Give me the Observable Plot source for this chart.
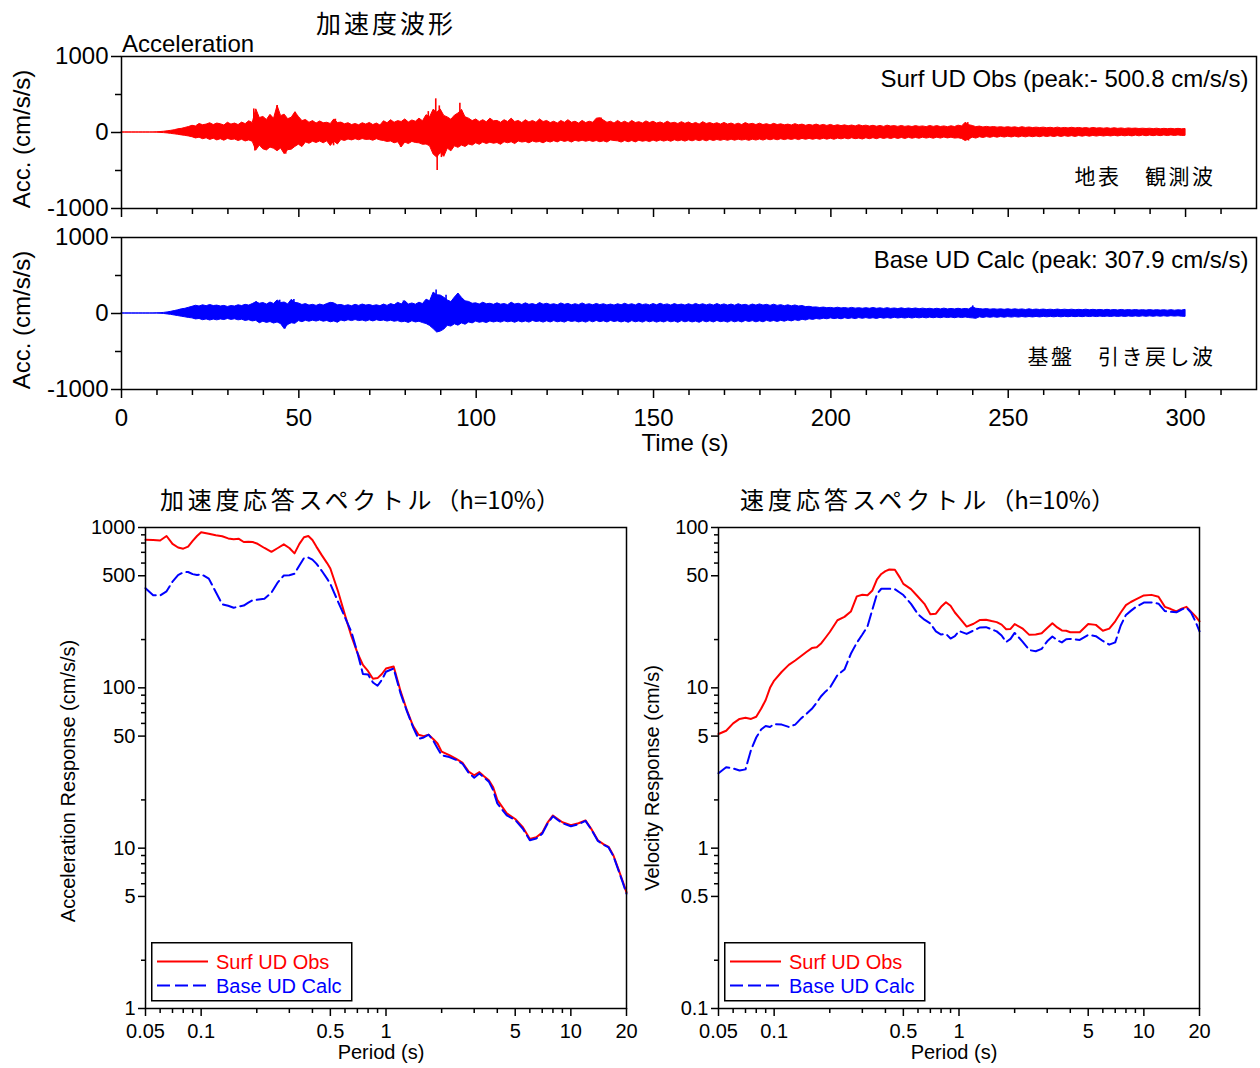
<!DOCTYPE html>
<html lang="ja">
<head>
<meta charset="utf-8">
<title>加速度波形・応答スペクトル</title>
<script src="https://cdn.jsdelivr.net/npm/d3@7"></script>
<script src="https://cdn.jsdelivr.net/npm/@observablehq/plot@0.6"></script>
<style>
  html, body { margin: 0; padding: 0; background: #fff; }
  #chart { position: relative; width: 1260px; height: 1068px; overflow: hidden; background: #fff; color: #000; }
  #chart > * { position: absolute; }
</style>
</head>
<body>
<div id="chart"></div>
<script>
// ---------------------------------------------------------------------------
// Acceleration time histories (cm/s/s): upper / lower envelope every 1 s, 0–300 s
// ---------------------------------------------------------------------------
const timeStep = 1;

const surfHi = [
  0, 0, 0, 0, 0, 0, 0, 0, 0, 0,
  3, 6, 10, 16, 22, 30, 42, 48, 60, 72,
  88, 80, 112, 96, 104, 122, 98, 118, 108, 92,
  128, 104, 118, 98, 130, 110, 148, 125, 305, 190,
  205, 165, 232, 180, 350, 215, 235, 175, 195, 265,
  205, 150, 165, 128, 150, 118, 145, 122, 128, 112,
  172, 125, 130, 108, 122, 98, 112, 95, 122, 104,
  126, 98, 118, 92, 148, 122, 162, 128, 150, 138,
  172, 132, 158, 142, 182, 148, 228, 200, 300, 262,
  302, 218, 198, 168, 222, 250, 298, 198, 182, 150,
  172, 138, 162, 134, 182, 148, 152, 128, 162, 138,
  182, 138, 152, 124, 162, 132, 152, 128, 172, 138,
  152, 124, 142, 118, 152, 128, 162, 128, 142, 118,
  152, 124, 142, 128, 182, 188, 158, 128, 142, 118,
  152, 122, 142, 118, 152, 124, 136, 118, 146, 124,
  142, 118, 132, 114, 142, 118, 128, 112, 136, 114,
  132, 108, 126, 104, 136, 112, 124, 108, 122, 104,
  126, 104, 118, 100, 116, 98, 124, 104, 114, 98,
  116, 98, 110, 94, 114, 98, 108, 94, 104, 92,
  110, 94, 104, 88, 100, 90, 104, 88, 100, 86,
  100, 84, 96, 84, 94, 82, 92, 80, 96, 82,
  90, 78, 88, 76, 86, 74, 90, 78, 84, 74,
  86, 74, 82, 72, 84, 74, 80, 70, 86, 74,
  84, 72, 80, 70, 82, 72, 90, 80, 128, 96,
  86, 70, 78, 66, 74, 66, 72, 64, 70, 62,
  70, 62, 68, 58, 70, 60, 66, 58, 64, 58,
  64, 56, 62, 54, 64, 54, 60, 54, 62, 54,
  60, 52, 58, 50, 60, 52, 56, 50, 56, 48,
  56, 48, 54, 46, 54, 48, 52, 46, 50, 46,
  50, 44, 50, 42, 48, 44, 48, 42, 48, 42,
  46
];
const surfLo = [
  0, 0, 0, 0, 0, 0, 0, 0, 0, 0,
  -2, -5, -8, -12, -18, -24, -30, -38, -44, -52,
  -62, -78, -68, -88, -76, -98, -82, -104, -88, -108,
  -84, -98, -92, -112, -96, -118, -104, -122, -238, -172,
  -222, -236, -198, -214, -246, -210, -285, -232, -226, -190,
  -160, -192, -130, -148, -122, -138, -118, -142, -116, -178,
  -118, -158, -98, -112, -92, -104, -88, -102, -86, -98,
  -94, -108, -88, -104, -112, -124, -118, -142, -128, -195,
  -132, -152, -124, -138, -142, -162, -158, -182, -290, -330,
  -270, -320, -212, -248, -182, -202, -172, -190, -158, -172,
  -142, -162, -132, -152, -134, -148, -138, -162, -128, -142,
  -128, -152, -118, -132, -124, -142, -118, -132, -124, -142,
  -118, -132, -114, -130, -108, -124, -112, -132, -108, -122,
  -108, -122, -110, -124, -112, -128, -116, -132, -104, -112,
  -116, -132, -112, -128, -112, -130, -108, -122, -112, -126,
  -106, -122, -104, -120, -106, -122, -102, -116, -104, -120,
  -102, -116, -100, -114, -100, -116, -98, -112, -98, -110,
  -96, -110, -94, -108, -94, -106, -96, -110, -94, -106,
  -92, -106, -90, -102, -90, -102, -88, -100, -88, -98,
  -86, -100, -84, -96, -84, -96, -84, -96, -82, -94,
  -82, -95, -80, -90, -78, -90, -76, -88, -80, -92,
  -76, -88, -75, -88, -72, -85, -74, -86, -72, -85,
  -72, -85, -70, -82, -72, -82, -68, -80, -70, -82,
  -68, -80, -66, -78, -68, -80, -75, -86, -112, -92,
  -68, -80, -62, -72, -60, -70, -58, -68, -56, -66,
  -55, -65, -54, -66, -53, -64, -52, -62, -52, -62,
  -50, -60, -50, -60, -48, -58, -48, -57, -48, -58,
  -46, -55, -45, -55, -45, -54, -44, -53, -44, -52,
  -43, -52, -42, -50, -42, -51, -41, -50, -40, -49,
  -40, -48, -40, -48, -39, -47, -38, -46, -38, -46,
  -44
];
const baseHi = [
  0, 0, 0, 0, 0, 0, 0, 0, 0, 0,
  2, 4, 8, 14, 22, 32, 42, 55, 62, 75,
  88, 102, 92, 108, 96, 112, 98, 104, 92, 100,
  86, 98, 92, 108, 98, 114, 104, 124, 148, 128,
  138, 118, 144, 126, 172, 138, 144, 120, 180, 140,
  132, 112, 124, 104, 114, 100, 118, 104, 124, 140,
  132, 108, 112, 98, 108, 96, 114, 100, 118, 104,
  112, 98, 108, 96, 118, 100, 124, 108, 140, 120,
  162, 118, 132, 116, 142, 124, 182, 160, 275, 240,
  236, 208, 172, 150, 210, 262, 205, 160, 152, 128,
  134, 118, 142, 122, 128, 114, 134, 116, 124, 110,
  142, 118, 128, 112, 134, 114, 124, 108, 138, 116,
  128, 112, 122, 108, 132, 114, 126, 108, 122, 110,
  132, 112, 122, 108, 126, 110, 122, 106, 118, 104,
  122, 108, 128, 110, 122, 106, 128, 110, 120, 106,
  124, 108, 128, 110, 120, 104, 124, 108, 118, 104,
  122, 106, 126, 108, 122, 106, 120, 104, 124, 106,
  120, 104, 118, 102, 122, 106, 114, 100, 118, 104,
  120, 104, 114, 100, 116, 100, 110, 96, 108, 94,
  106, 92, 98, 84, 88, 78, 80, 72, 78, 70,
  74, 66, 76, 66, 72, 64, 74, 64, 70, 62,
  70, 62, 72, 62, 68, 60, 70, 60, 66, 58,
  68, 58, 66, 58, 66, 56, 64, 56, 62, 54,
  62, 54, 64, 54, 60, 54, 62, 54, 60, 54,
  82, 62, 58, 52, 58, 50, 56, 50, 55, 48,
  56, 48, 55, 48, 54, 46, 55, 46, 52, 46,
  52, 45, 50, 44, 52, 44, 50, 44, 50, 43,
  48, 43, 50, 42, 48, 42, 47, 41, 48, 41,
  46, 40, 47, 40, 45, 40, 46, 39, 44, 38,
  45, 38, 44, 38, 43, 37, 44, 37, 42, 38,
  48
];
const baseLo = [
  0, 0, 0, 0, 0, 0, 0, 0, 0, 0,
  -1, -3, -6, -12, -18, -26, -34, -42, -50, -58,
  -64, -78, -72, -88, -78, -92, -80, -90, -78, -86,
  -72, -84, -76, -90, -82, -98, -88, -104, -96, -128,
  -108, -124, -112, -132, -118, -140, -205, -150, -128, -136,
  -100, -114, -96, -108, -94, -106, -92, -108, -98, -116,
  -104, -122, -92, -104, -88, -100, -86, -100, -92, -106,
  -90, -104, -88, -100, -92, -106, -94, -108, -100, -116,
  -108, -124, -102, -118, -108, -126, -138, -164, -205, -250,
  -238, -212, -162, -172, -142, -160, -130, -148, -118, -130,
  -106, -122, -112, -126, -104, -118, -106, -120, -102, -116,
  -106, -122, -102, -118, -104, -120, -98, -112, -104, -120,
  -102, -118, -100, -116, -106, -120, -98, -112, -102, -118,
  -104, -120, -100, -116, -98, -114, -102, -118, -98, -112,
  -102, -118, -104, -122, -100, -116, -104, -120, -100, -116,
  -102, -120, -104, -118, -100, -116, -104, -122, -100, -116,
  -102, -118, -106, -122, -100, -116, -102, -118, -98, -114,
  -104, -120, -100, -116, -102, -118, -98, -112, -100, -116,
  -102, -116, -96, -110, -98, -112, -96, -108, -92, -104,
  -88, -100, -82, -92, -76, -84, -72, -80, -68, -76,
  -64, -74, -66, -76, -62, -72, -64, -74, -60, -70,
  -60, -70, -62, -72, -58, -68, -60, -68, -56, -66,
  -58, -66, -56, -66, -56, -64, -55, -64, -54, -62,
  -54, -62, -52, -60, -53, -62, -52, -60, -52, -60,
  -64, -70, -50, -58, -49, -56, -49, -56, -48, -55,
  -47, -54, -47, -54, -46, -53, -46, -52, -45, -52,
  -44, -50, -44, -50, -43, -50, -43, -49, -42, -48,
  -42, -48, -41, -47, -41, -47, -40, -46, -40, -46,
  -39, -45, -39, -45, -38, -44, -38, -44, -37, -43,
  -37, -43, -36, -42, -36, -42, -35, -41, -36, -42,
  -44
];

// Individual sharp peaks [time (s), acceleration (cm/s/s)]
const surfSpikes = [
  [37.3, 310], [37.6, -245], [43.9, 355], [45.9, -260], [46.3, -285],
  [49.0, 267], [59.8, -175], [60.3, 175], [78.7, -195], [86.5, 275],
  [88.6, 443], [89.0, -500.8], [89.6, 350], [90.2, -330], [95.4, 386],
  [97.0, 200], [135.2, 190], [238.6, 130], [238.8, -112]
];
const baseSpikes = [
  [38.0, 155], [44.6, 175], [46.1, -205], [48.6, 185], [59.5, 140],
  [79.5, 165], [88.7, 307.9], [89.3, -250], [91.5, 240], [94.8, 260],
  [240.0, 100]
];

const timeMajor = [0, 50, 100, 150, 200, 250, 300];
const timeMinor = [10, 20, 30, 40, 60, 70, 80, 90, 110, 120, 130, 140, 160, 170, 180, 190,
                   210, 220, 230, 240, 260, 270, 280, 290, 310];
const accMajor = [-1000, 0, 1000];
const accMinor = [-500, 500];

// ---------------------------------------------------------------------------
// Response spectra, h = 10 %
// ---------------------------------------------------------------------------
const periods = [
  0.05, 0.055, 0.06, 0.065, 0.07, 0.075, 0.08, 0.085, 0.09, 0.095,
  0.1, 0.11, 0.12, 0.13, 0.14, 0.15, 0.16, 0.17, 0.18, 0.19,
  0.2, 0.22, 0.24, 0.26, 0.28, 0.3, 0.32, 0.34, 0.36, 0.38,
  0.4, 0.42, 0.45, 0.48, 0.5, 0.55, 0.6, 0.65, 0.7, 0.75,
  0.8, 0.85, 0.9, 0.95, 1.0, 1.1, 1.2, 1.3, 1.4, 1.5,
  1.6, 1.7, 1.8, 1.9, 2.0, 2.2, 2.4, 2.6, 2.8, 3.0,
  3.2, 3.4, 3.6, 3.8, 4.0, 4.5, 5.0, 5.5, 6.0, 6.5,
  7.0, 7.5, 8.0, 8.5, 9.0, 10, 11, 12, 13, 14,
  15, 16, 17, 18, 19, 20
];
// acceleration response (cm/s/s)
const saSurfObs = [
  838, 835, 830, 885, 790, 750, 738, 760, 825, 885,
  935, 915, 895, 882, 855, 845, 850, 812, 815, 812,
  795, 745, 705, 745, 785, 745, 690, 790, 870, 885,
  835, 760, 670, 600, 555, 400, 284, 210, 166, 139,
  127, 114, 115, 122, 132, 136, 95, 72, 58, 51,
  50, 51, 48, 45, 40, 38, 36, 34, 30, 28.5,
  29.8, 28, 26.5, 24, 20, 16.5, 15.2, 13.5, 11.4, 11.7,
  12.5, 14.5, 16, 15.2, 14.5, 13.9, 14.3, 14.9, 13, 11.2,
  10.6, 10.2, 9, 7.5, 6.3, 5.3
];
const saBaseCalc = [
  418, 378, 377, 400, 460, 505, 525, 528, 512, 505,
  512, 480, 396, 332, 325, 316, 321, 326, 340, 352,
  354, 360, 392, 455, 502, 504, 515, 580, 645, 650,
  630, 595, 535, 480, 445, 345, 275, 223, 166, 122,
  121, 108, 103, 112, 126, 132, 92, 71, 57, 48,
  49, 51, 47, 42, 38, 37, 35.5, 33.5, 29.5, 27.5,
  29.2, 27.5, 26, 23, 19, 16, 15, 13.2, 11.2, 11.5,
  12.3, 14.3, 15.8, 15, 14.3, 13.7, 14.1, 14.8, 12.9, 11.1,
  10.5, 10.1, 8.9, 7.4, 6.2, 5.2
];
// velocity response (cm/s)
const svSurfObs = [
  5.15, 5.4, 6.0, 6.4, 6.5, 6.4, 6.6, 7.4, 8.4, 10.0,
  11.1, 12.6, 13.9, 14.8, 15.8, 16.8, 17.7, 17.9, 19.0, 20.6,
  22.3, 26.4, 27.7, 29.9, 37.2, 38.1, 37.8, 40.5, 47.5, 51.3,
  53.4, 54.7, 54.5, 48.5, 44.5, 41.3, 37.0, 33.4, 28.8, 29.0,
  32.0, 34.2, 32.5, 29.5, 27.5, 24.1, 25.1, 26.5, 26.6, 26.1,
  25.7, 24.8, 23.2, 23.3, 25.0, 23.5, 21.4, 21.5, 21.9, 23.6,
  25.3, 23.8, 22.8, 22.7, 22.2, 22.2, 25.0, 24.7, 22.7, 23.4,
  26.0, 29.5, 32.8, 34.3, 35.5, 37.7, 38.0, 37.0, 32.0, 31.0,
  30.0, 31.2, 32.0, 29.8, 28.0, 26.0
];
const svBaseCalc = [
  2.93, 3.2, 3.14, 3.05, 3.1, 4.1, 4.9, 5.5, 5.78, 5.7,
  5.95, 5.9, 5.7, 5.9, 6.45, 6.9, 7.4, 8.1, 8.9, 9.5,
  10.0, 12.0, 13.0, 16.3, 19.1, 21.5, 24.2, 30.8, 38.5, 41.5,
  41.5, 41.5, 41.2, 39.2, 37.9, 33.4, 28.8, 26.6, 25.2, 22.5,
  21.5, 21.7, 20.3, 21.0, 22.6, 21.7, 22.8, 23.8, 23.9, 23.2,
  22.5, 21.2, 19.3, 20.2, 22.0, 19.5, 17.2, 16.9, 17.5, 19.5,
  20.9, 19.8, 19.2, 20.1, 20.2, 19.9, 21.4, 21.0, 19.6, 18.6,
  19.2, 24.5, 28.5, 30.2, 31.8, 34.0, 34.1, 33.5, 30.1, 29.8,
  29.6, 30.8, 31.6, 29.5, 26.0, 22.5
];

const periodMajor = [0.05, 0.1, 0.5, 1, 5, 10, 20];
const periodMinor = [0.06, 0.07, 0.08, 0.09, 0.2, 0.3, 0.4, 0.6, 0.7, 0.8, 0.9,
                     2, 3, 4, 6, 7, 8, 9];
const saMajor = [1, 5, 10, 50, 100, 500, 1000];
const saMinor = [2, 6, 7, 8, 9, 20, 60, 70, 80, 90, 200, 600, 700, 800, 900];
const svMajor = [0.1, 0.5, 1, 5, 10, 50, 100];
const svMinor = [0.2, 0.6, 0.7, 0.8, 0.9, 2, 6, 7, 8, 9, 20, 60, 70, 80, 90];

const seriesNames = ["Surf UD Obs", "Base UD Calc"];
const seriesColors = ["#ff0000", "#0000ff"];
const calcDash = "13,5";

// ---------------------------------------------------------------------------
const LATIN = "'Liberation Sans', Arial, sans-serif";
const JP = "'Noto Sans CJK JP', 'Noto Sans CJK SC', sans-serif";
const W = 1260;
const chart = document.getElementById("chart");

function put(node, left, top) {
  node.style.position = "absolute";
  node.style.left = left + "px";
  node.style.top = top + "px";
  chart.appendChild(node);
  return node;
}

// absolutely positioned text; `parts` lets a label mix letter-spacings
function addText(str, o) {
  const el = document.createElement("div");
  Object.assign(el.style, {
    position: "absolute", whiteSpace: "nowrap", lineHeight: "1",
    fontSize: o.size + "px", fontFamily: o.jp ? JP : LATIN, color: o.color || "#000"
  });
  if (o.parts) {
    for (const [txt, sp] of o.parts) {
      const s = document.createElement("span");
      s.textContent = txt;
      if (sp) s.style.letterSpacing = sp + "px";
      el.appendChild(s);
    }
  } else {
    el.textContent = str;
    if (o.spacing) el.style.letterSpacing = o.spacing + "px";
  }
  if (o.rotate) {
    el.style.left = o.cx + "px";
    el.style.top = o.cy + "px";
    el.style.transform = "translate(-50%,-50%) rotate(-90deg)";
  } else {
    if (o.right != null) el.style.right = (W - o.right) + "px";
    else if (o.cx != null) { el.style.left = o.cx + "px"; el.style.transform = "translateX(-50%)"; }
    else el.style.left = o.left + "px";
    el.style.top = o.top + "px";
  }
  chart.appendChild(el);
}

function peakOf(hi, lo, spikes) {
  const all = hi.concat(lo, spikes.map(d => d[1]));
  return all.reduce((a, b) => (Math.abs(b) > Math.abs(a) ? b : a), 0);
}
function peakText(name, p) {
  return `${name} (peak:${p < 0 ? "- " : " "}${Math.abs(p).toFixed(1)} cm/s/s)`;
}

const plotStyle = { background: "transparent", overflow: "visible", fontFamily: LATIN, fontSize: "24px", color: "#000" };

// one acceleration time-history panel
function wavePanel({ hi, lo, spikes, color, label, marginTop, height, timeLabels }) {
  const data = hi.map((h, i) => ({ t: i * timeStep, hi: h, lo: lo[i] }));
  return Plot.plot({
    width: 1260, height,
    marginTop, marginBottom: height - marginTop - 152, marginLeft: 121, marginRight: 4,
    style: plotStyle,
    x: { domain: [0, 320], axis: null, label: null },
    y: { domain: [-1000, 1000], axis: null, label: null },
    marks: [
      Plot.areaY(data, { x: "t", y1: "lo", y2: "hi", fill: color, stroke: color, strokeWidth: 1 }),
      Plot.ruleX(spikes, { x: d => d[0], y1: 0, y2: d => d[1], stroke: color, strokeWidth: 1.6 }),
      Plot.frame({ stroke: "#000", strokeWidth: 1.5 }),
      Plot.axisY(accMajor, { tickSize: 10, tickPadding: 3, strokeWidth: 1.5, tickFormat: d => String(d) }),
      Plot.axisY(accMinor, { tickSize: 6, strokeWidth: 1.5, fill: "none" }),
      Plot.axisX(timeMinor, { tickSize: 6, strokeWidth: 1.5, fill: "none" }),
      Plot.axisX(timeMajor, {
        tickSize: 9, tickPadding: 10, strokeWidth: 1.5, tickFormat: d => String(d),
        fill: timeLabels ? "#000" : "none"
      }),
      Plot.text([label], { frameAnchor: "top-right", lineAnchor: "middle", dx: -8, dy: 23, fontSize: 24, text: d => d })
    ]
  });
}

// one response-spectrum panel (log–log)
function spectrumPanel({ obs, calc, yDomain, yMajor, yMinor }) {
  const data = periods.map((T, i) => ({ T, obs: obs[i], calc: calc[i] }));
  return Plot.plot({
    width: 640, height: 598,
    marginTop: 57, marginBottom: 60, marginLeft: 145, marginRight: 14,
    style: { ...plotStyle, fontSize: "20px" },
    x: { type: "log", domain: [0.05, 20], axis: null, label: null },
    y: { type: "log", domain: yDomain, axis: null, label: null },
    marks: [
      Plot.line(data, { x: "T", y: "obs", stroke: seriesColors[0], strokeWidth: 2 }),
      Plot.line(data, { x: "T", y: "calc", stroke: seriesColors[1], strokeWidth: 2, strokeDasharray: calcDash }),
      Plot.frame({ stroke: "#000", strokeWidth: 1.5 }),
      Plot.axisY(yMajor, { tickSize: 7, strokeWidth: 1.5, fill: "none" }),
      Plot.axisY(yMinor, { tickSize: 4, strokeWidth: 1.5, fill: "none" }),
      Plot.axisX(periodMajor, { tickSize: 8, strokeWidth: 1.5, fill: "none" }),
      Plot.axisX(periodMinor, { tickSize: 5, strokeWidth: 1.5, fill: "none" }),
      // tick labels: every 1–5 step is written out
      Plot.text(yMajor, { y: d => d, text: d => String(d), frameAnchor: "left", textAnchor: "end", lineAnchor: "middle", dx: -10, fontSize: 20 }),
      Plot.text(periodMajor, { x: d => d, text: d => String(d), frameAnchor: "bottom", textAnchor: "middle", lineAnchor: "top", dy: 15, fontSize: 20 })
    ]
  });
}

function legendBox(left, top) {
  const svg = d3.create("svg").attr("width", 203).attr("height", 61);
  svg.append("rect").attr("x", 0.75).attr("y", 0.75).attr("width", 200).attr("height", 58)
    .attr("fill", "#fff").attr("stroke", "#000").attr("stroke-width", 1.5);
  seriesNames.forEach((name, i) => {
    const y = 19.5 + i * 24;
    svg.append("line").attr("x1", 6).attr("x2", 57).attr("y1", y).attr("y2", y)
      .attr("stroke", seriesColors[i]).attr("stroke-width", 2)
      .attr("stroke-dasharray", i === 1 ? calcDash : null);
    svg.append("text").attr("x", 65).attr("y", y + 7).attr("fill", seriesColors[i])
      .style("font-family", LATIN).style("font-size", "20px").text(name);
  });
  put(svg.node(), left, top);
}

// ---- time histories
put(wavePanel({
  hi: surfHi, lo: surfLo, spikes: surfSpikes, color: seriesColors[0],
  label: peakText("Surf UD Obs", peakOf(surfHi, surfLo, surfSpikes)),
  marginTop: 56, height: 182, timeLabels: false
}), 0, 0);
put(wavePanel({
  hi: baseHi, lo: baseLo, spikes: baseSpikes, color: seriesColors[1],
  label: peakText("Base UD Calc", peakOf(baseHi, baseLo, baseSpikes)),
  marginTop: 8, height: 200, timeLabels: true
}), 0, 229);

addText("加速度波形", { left: 316, top: 10, size: 25, spacing: 3, jp: true });
addText("Acceleration", { left: 122, top: 32, size: 24 });
addText("Acc. (cm/s/s)", { rotate: true, cx: 22, cy: 138.5, size: 24 });
addText("Acc. (cm/s/s)", { rotate: true, cx: 22, cy: 320, size: 24 });
addText("地表　観測波", { right: 1215.5, top: 165, size: 21, spacing: 2.5, jp: true });
addText("基盤　引き戻し波", { right: 1215.5, top: 345, size: 21, spacing: 2.5, jp: true });
addText("Time (s)", { cx: 685, top: 431, size: 24 });

// ---- response spectra
put(spectrumPanel({ obs: saSurfObs, calc: saBaseCalc, yDomain: [1, 1000], yMajor: saMajor, yMinor: saMinor }), 0, 470);
put(spectrumPanel({ obs: svSurfObs, calc: svBaseCalc, yDomain: [0.1, 100], yMajor: svMajor, yMinor: svMinor }), 573, 470);

addText("", { left: 160, top: 487, size: 24, jp: true, parts: [["加速度応答スペクトル", 3.7], ["（h=10%）", 0]] });
addText("", { left: 740, top: 487, size: 24, jp: true, parts: [["速度応答スペクトル", 4], ["（h=10%）", 0]] });
addText("Acceleration Response (cm/s/s)", { rotate: true, cx: 68, cy: 781, size: 20 });
addText("Velocity Response (cm/s)", { rotate: true, cx: 652, cy: 778, size: 20 });
addText("Period (s)", { cx: 381, top: 1042, size: 20 });
addText("Period (s)", { cx: 954, top: 1042, size: 20 });

legendBox(151, 942);
legendBox(724, 942);
</script>
</body>
</html>
